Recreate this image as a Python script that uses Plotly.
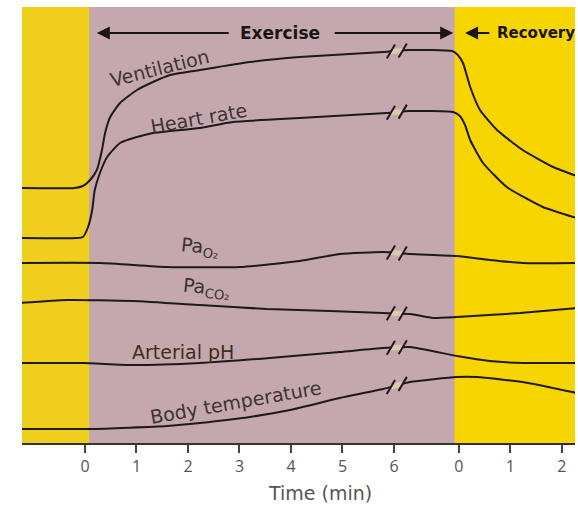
import numpy as np
import plotly.graph_objects as go

# ---- data (x = plot position in minutes; recovery minutes are placed after REC_OFFSET) ----
REC_OFFSET = 7.26          # position of recovery minute 0
BREAK_POS = [5.94, 6.17]   # axis break marks (the two slashes)

exercise_ticks = [0, 1, 2, 3, 4, 5, 6]
recovery_ticks = [0, 1, 2]
tick_labels = [str(v) for v in exercise_ticks] + [str(v) for v in recovery_ticks]

vent_x = [-1.26, -0.2, -0.04, 0.10, 0.23, 0.33, 0.39, 0.49, 0.68, 1.01, 1.32, 1.65, 2.23, 3.2, 4.17, 5.79, 6.31, 7.13, 7.24, 7.34, 7.48, 7.67, 8.0, 8.50, 9.09, 9.55]
vent_y = [255, 255, 257, 263, 273, 293, 310, 326, 340, 353, 361, 368, 373, 381, 386, 391, 393, 392, 388, 380, 356, 333, 313, 293, 276, 267]

hr_x = [-1.26, -0.16, -0.04, 0.06, 0.14, 0.19, 0.29, 0.43, 0.68, 1.01, 1.32, 1.65, 2.23, 2.87, 4.17, 5.86, 6.31, 7.15, 7.28, 7.38, 7.48, 7.73, 8.19, 8.89, 9.55]
hr_y = [205, 205, 206, 216, 233, 253, 270, 286, 300, 306, 310, 312, 315, 321, 325, 330, 332, 331, 327, 318, 303, 280, 256, 236, 225]

pao2_x = [-1.26, 0.29, 1.59, 3.01, 4.17, 4.95, 5.79, 6.31, 7.22, 7.86, 8.50, 9.55]
pao2_y = [180, 180, 176, 176, 182, 189, 191, 189, 187, 183, 180, 180]

paco2_x = [-1.26, -0.35, 0.93, 2.23, 3.53, 4.76, 5.79, 6.31, 6.76, 7.22, 8.45, 9.55]
paco2_y = [140, 143, 142, 138, 134, 132, 130, 129, 125, 126, 130, 135]

ph_x = [-1.26, -0.04, 0.93, 2.23, 3.59, 4.95, 5.79, 6.31, 7.22, 7.86, 8.50, 9.55]
ph_y = [80, 80, 78, 80, 85, 91, 95, 96, 87, 82, 80, 80]

temp_x = [-1.26, 0.10, 1.59, 2.23, 3.2, 3.98, 4.95, 5.79, 6.31, 7.22, 7.61, 8.50, 9.55]
temp_y = [14, 14, 17, 20, 26, 33, 45, 54, 61, 66, 66, 61, 50]

curves = [
    (vent_x, vent_y),
    (hr_x, hr_y),
    (pao2_x, pao2_y),
    (paco2_x, paco2_y),
    (ph_x, ph_y),
    (temp_x, temp_y),
]

YELLOW_L = "#F0CF1C"
YELLOW_R = "#F6D500"
PINK = "#C5A8AE"
LINE = "#1e1a1a"
TXT = "#3a3434"

X_RANGE = [-1.223, 9.515]
Y_RANGE = [0, 436]
EX_START, EX_END = 0.08, 7.18

fig = go.Figure()

for cx, cy in curves:
    fig.add_trace(go.Scatter(x=cx, y=cy, mode="lines",
                             line=dict(color=LINE, width=2, shape="spline", smoothing=0.5),
                             hoverinfo="skip", showlegend=False))

shapes = [
    dict(type="rect", xref="x", yref="paper", x0=X_RANGE[0], x1=EX_START, y0=0, y1=1,
         fillcolor=YELLOW_L, line_width=0, layer="below"),
    dict(type="rect", xref="x", yref="paper", x0=EX_START, x1=EX_END, y0=0, y1=1,
         fillcolor=PINK, line_width=0, layer="below"),
    dict(type="rect", xref="x", yref="paper", x0=EX_END, x1=X_RANGE[1] + 0.2, y0=0, y1=1,
         fillcolor=YELLOW_R, line_width=0, layer="below"),
]

# break marks on each curve
dx, dy = 0.08, 7
for cx, cy in curves:
    ya = float(np.interp(BREAK_POS[0], cx, cy))
    yb = float(np.interp(BREAK_POS[1], cx, cy))
    shapes.append(dict(type="line", xref="x", yref="y", x0=BREAK_POS[0], x1=BREAK_POS[1],
                       y0=ya, y1=yb, line=dict(color="#dcc9ae", width=5)))
    for bp, yv in zip(BREAK_POS, [ya, yb]):
        shapes.append(dict(type="line", xref="x", yref="y", x0=bp - dx, x1=bp + dx,
                           y0=yv - dy, y1=yv + dy, line=dict(color=LINE, width=2)))

fig.update_layout(shapes=shapes)

lab_font = dict(family="DejaVu Sans, sans-serif", size=19, color=TXT)
labels = [
    ("Ventilation", 1.44, 375, -14),
    ("Heart rate", 2.22, 325, -10),
    ("Pa<sub>O₂</sub>", 2.24, 196, 6),
    ("Pa<sub>CO₂</sub>", 2.36, 155, 6),
    ("Arterial pH", 1.90, 91, 0),
    ("Body temperature", 2.93, 41, -10),
]
for text, x, y, ang in labels:
    f = dict(lab_font)
    if text == "Arterial pH":
        f["color"] = "#3b3018"
    fig.add_annotation(x=x, y=y, xref="x", yref="y", text=text, showarrow=False,
                       textangle=ang, font=f)

# header
head_font = dict(family="DejaVu Sans, sans-serif", size=17, color="#1a1414")
fig.add_annotation(x=3.79, y=410, xref="x", yref="y", text="<b>Exercise</b>",
                   showarrow=False, font=head_font)
fig.add_annotation(x=0.23, y=410, ax=2.82, ay=410, xref="x", yref="y", axref="x", ayref="y",
                   text="", showarrow=True, arrowhead=2, arrowsize=1.3, arrowwidth=2,
                   arrowcolor="#1a1414")
fig.add_annotation(x=7.15, y=410, ax=4.82, ay=410, xref="x", yref="y", axref="x", ayref="y",
                   text="", showarrow=True, arrowhead=2, arrowsize=1.3, arrowwidth=2,
                   arrowcolor="#1a1414")
fig.add_annotation(x=7.38, y=410, ax=7.88, ay=410, xref="x", yref="y", axref="x", ayref="y",
                   text="", showarrow=True, arrowhead=2, arrowsize=1.3, arrowwidth=2,
                   arrowcolor="#1a1414")
fig.add_annotation(x=7.97, y=410, xref="x", yref="y", text="<b>Recovery</b>",
                   showarrow=False, xanchor="left",
                   font=dict(family="DejaVu Sans, sans-serif", size=15, color="#1a1414"))

# axis title (sits right of centre in the reference)
fig.add_annotation(x=4.56, y=-0.115, xref="x", yref="paper", text="Time (min)",
                   showarrow=False, yanchor="middle",
                   font=dict(family="DejaVu Sans, sans-serif", size=19, color="#555"))

tick_vals = exercise_ticks + [REC_OFFSET + r for r in recovery_ticks]

fig.update_layout(
    width=578, height=505,
    margin=dict(l=22, r=3, t=7, b=62, autoexpand=False),
    paper_bgcolor="white", plot_bgcolor=YELLOW_L,
    xaxis=dict(range=X_RANGE, tickvals=tick_vals, ticktext=tick_labels,
               ticks="outside", ticklen=8, tickwidth=1.5, tickcolor="#444",
               showline=True, linecolor="#333", linewidth=1.5, showgrid=False, zeroline=False,
               automargin=False,
               tickfont=dict(family="Open Sans, sans-serif", size=16, color="#555")),
    yaxis=dict(range=Y_RANGE, visible=False, showgrid=False, zeroline=False, automargin=False),
)

fig.write_html("out.html", config={"displayModeBar": False},
               post_script="document.body.style.margin='0';")
